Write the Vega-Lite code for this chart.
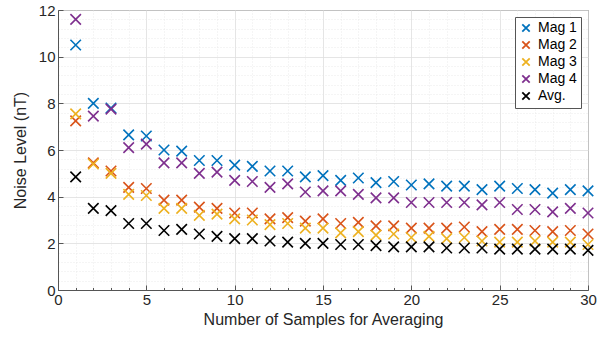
{
  "$schema": "https://vega.github.io/schema/vega-lite/v6.json",
  "width": 530,
  "height": 280,
  "autosize": {"type": "none"},
  "padding": {"left": 58, "top": 10, "right": 14, "bottom": 47},
  "background": "white",
  "config": {
    "font": "Liberation Sans",
    "view": {"stroke": "#555555", "strokeWidth": 1}
  },
  "datasets": {
    "pts": [
      {"n":1,"series":"Mag 1","noise":10.5},{"n":2,"series":"Mag 1","noise":8.0},{"n":3,"series":"Mag 1","noise":7.8},{"n":4,"series":"Mag 1","noise":6.65},{"n":5,"series":"Mag 1","noise":6.6},{"n":6,"series":"Mag 1","noise":6.0},{"n":7,"series":"Mag 1","noise":5.95},{"n":8,"series":"Mag 1","noise":5.55},{"n":9,"series":"Mag 1","noise":5.55},{"n":10,"series":"Mag 1","noise":5.35},{"n":11,"series":"Mag 1","noise":5.3},{"n":12,"series":"Mag 1","noise":5.1},{"n":13,"series":"Mag 1","noise":5.1},{"n":14,"series":"Mag 1","noise":4.85},{"n":15,"series":"Mag 1","noise":4.9},{"n":16,"series":"Mag 1","noise":4.7},{"n":17,"series":"Mag 1","noise":4.8},{"n":18,"series":"Mag 1","noise":4.6},{"n":19,"series":"Mag 1","noise":4.65},{"n":20,"series":"Mag 1","noise":4.5},{"n":21,"series":"Mag 1","noise":4.55},{"n":22,"series":"Mag 1","noise":4.45},{"n":23,"series":"Mag 1","noise":4.45},{"n":24,"series":"Mag 1","noise":4.3},{"n":25,"series":"Mag 1","noise":4.45},{"n":26,"series":"Mag 1","noise":4.35},{"n":27,"series":"Mag 1","noise":4.3},{"n":28,"series":"Mag 1","noise":4.15},{"n":29,"series":"Mag 1","noise":4.3},{"n":30,"series":"Mag 1","noise":4.25},
      {"n":1,"series":"Mag 2","noise":7.25},{"n":2,"series":"Mag 2","noise":5.45},{"n":3,"series":"Mag 2","noise":5.1},{"n":4,"series":"Mag 2","noise":4.4},{"n":5,"series":"Mag 2","noise":4.35},{"n":6,"series":"Mag 2","noise":3.85},{"n":7,"series":"Mag 2","noise":3.85},{"n":8,"series":"Mag 2","noise":3.55},{"n":9,"series":"Mag 2","noise":3.5},{"n":10,"series":"Mag 2","noise":3.3},{"n":11,"series":"Mag 2","noise":3.3},{"n":12,"series":"Mag 2","noise":3.05},{"n":13,"series":"Mag 2","noise":3.1},{"n":14,"series":"Mag 2","noise":2.95},{"n":15,"series":"Mag 2","noise":3.05},{"n":16,"series":"Mag 2","noise":2.85},{"n":17,"series":"Mag 2","noise":2.9},{"n":18,"series":"Mag 2","noise":2.75},{"n":19,"series":"Mag 2","noise":2.75},{"n":20,"series":"Mag 2","noise":2.65},{"n":21,"series":"Mag 2","noise":2.65},{"n":22,"series":"Mag 2","noise":2.65},{"n":23,"series":"Mag 2","noise":2.7},{"n":24,"series":"Mag 2","noise":2.5},{"n":25,"series":"Mag 2","noise":2.6},{"n":26,"series":"Mag 2","noise":2.6},{"n":27,"series":"Mag 2","noise":2.55},{"n":28,"series":"Mag 2","noise":2.5},{"n":29,"series":"Mag 2","noise":2.55},{"n":30,"series":"Mag 2","noise":2.4},
      {"n":1,"series":"Mag 3","noise":7.55},{"n":2,"series":"Mag 3","noise":5.4},{"n":3,"series":"Mag 3","noise":5.0},{"n":4,"series":"Mag 3","noise":4.1},{"n":5,"series":"Mag 3","noise":4.05},{"n":6,"series":"Mag 3","noise":3.5},{"n":7,"series":"Mag 3","noise":3.5},{"n":8,"series":"Mag 3","noise":3.2},{"n":9,"series":"Mag 3","noise":3.25},{"n":10,"series":"Mag 3","noise":3.05},{"n":11,"series":"Mag 3","noise":3.0},{"n":12,"series":"Mag 3","noise":2.8},{"n":13,"series":"Mag 3","noise":2.85},{"n":14,"series":"Mag 3","noise":2.65},{"n":15,"series":"Mag 3","noise":2.65},{"n":16,"series":"Mag 3","noise":2.45},{"n":17,"series":"Mag 3","noise":2.5},{"n":18,"series":"Mag 3","noise":2.35},{"n":19,"series":"Mag 3","noise":2.4},{"n":20,"series":"Mag 3","noise":2.25},{"n":21,"series":"Mag 3","noise":2.3},{"n":22,"series":"Mag 3","noise":2.2},{"n":23,"series":"Mag 3","noise":2.25},{"n":24,"series":"Mag 3","noise":2.1},{"n":25,"series":"Mag 3","noise":2.05},{"n":26,"series":"Mag 3","noise":2.05},{"n":27,"series":"Mag 3","noise":2.1},{"n":28,"series":"Mag 3","noise":2.05},{"n":29,"series":"Mag 3","noise":2.05},{"n":30,"series":"Mag 3","noise":1.95},
      {"n":1,"series":"Mag 4","noise":11.6},{"n":2,"series":"Mag 4","noise":7.45},{"n":3,"series":"Mag 4","noise":7.75},{"n":4,"series":"Mag 4","noise":6.1},{"n":5,"series":"Mag 4","noise":6.25},{"n":6,"series":"Mag 4","noise":5.45},{"n":7,"series":"Mag 4","noise":5.45},{"n":8,"series":"Mag 4","noise":5.0},{"n":9,"series":"Mag 4","noise":5.05},{"n":10,"series":"Mag 4","noise":4.7},{"n":11,"series":"Mag 4","noise":4.65},{"n":12,"series":"Mag 4","noise":4.4},{"n":13,"series":"Mag 4","noise":4.55},{"n":14,"series":"Mag 4","noise":4.2},{"n":15,"series":"Mag 4","noise":4.25},{"n":16,"series":"Mag 4","noise":4.25},{"n":17,"series":"Mag 4","noise":4.1},{"n":18,"series":"Mag 4","noise":3.95},{"n":19,"series":"Mag 4","noise":3.95},{"n":20,"series":"Mag 4","noise":3.75},{"n":21,"series":"Mag 4","noise":3.75},{"n":22,"series":"Mag 4","noise":3.75},{"n":23,"series":"Mag 4","noise":3.75},{"n":24,"series":"Mag 4","noise":3.65},{"n":25,"series":"Mag 4","noise":3.75},{"n":26,"series":"Mag 4","noise":3.45},{"n":27,"series":"Mag 4","noise":3.45},{"n":28,"series":"Mag 4","noise":3.35},{"n":29,"series":"Mag 4","noise":3.5},{"n":30,"series":"Mag 4","noise":3.3},
      {"n":1,"series":"Avg.","noise":4.85},{"n":2,"series":"Avg.","noise":3.5},{"n":3,"series":"Avg.","noise":3.4},{"n":4,"series":"Avg.","noise":2.85},{"n":5,"series":"Avg.","noise":2.85},{"n":6,"series":"Avg.","noise":2.55},{"n":7,"series":"Avg.","noise":2.6},{"n":8,"series":"Avg.","noise":2.4},{"n":9,"series":"Avg.","noise":2.3},{"n":10,"series":"Avg.","noise":2.2},{"n":11,"series":"Avg.","noise":2.2},{"n":12,"series":"Avg.","noise":2.1},{"n":13,"series":"Avg.","noise":2.05},{"n":14,"series":"Avg.","noise":2.0},{"n":15,"series":"Avg.","noise":2.0},{"n":16,"series":"Avg.","noise":1.95},{"n":17,"series":"Avg.","noise":1.95},{"n":18,"series":"Avg.","noise":1.9},{"n":19,"series":"Avg.","noise":1.85},{"n":20,"series":"Avg.","noise":1.85},{"n":21,"series":"Avg.","noise":1.85},{"n":22,"series":"Avg.","noise":1.8},{"n":23,"series":"Avg.","noise":1.8},{"n":24,"series":"Avg.","noise":1.8},{"n":25,"series":"Avg.","noise":1.75},{"n":26,"series":"Avg.","noise":1.75},{"n":27,"series":"Avg.","noise":1.75},{"n":28,"series":"Avg.","noise":1.75},{"n":29,"series":"Avg.","noise":1.75},{"n":30,"series":"Avg.","noise":1.7}
    ]
  },
  "data": {"name": "pts"},
  "mark": {
    "type": "point",
    "shape": "M-1,-1L1,1M-1,1L1,-1",
    "filled": false,
    "size": 110,
    "strokeWidth": 1.6,
    "opacity": 1
  },
  "encoding": {
    "x": {
      "field": "n",
      "type": "quantitative",
      "scale": {"domain": [0, 30], "nice": false},
      "title": "Number of Samples for Averaging",
      "axis": {
        "values": [0,1,2,3,4,5,6,7,8,9,10,11,12,13,14,15,16,17,18,19,20,21,22,23,24,25,26,27,28,29,30],
        "labelExpr": "datum.value % 5 === 0 ? '' + datum.value : ''",
        "labelOverlap": false,
        "labelFontSize": 15,
        "labelColor": "#262626",
        "labelPadding": 7,
        "titleFontSize": 16,
        "titleFontWeight": "normal",
        "titleColor": "#262626",
        "titlePadding": 2,
        "domainColor": "#555555",
        "tickColor": "#555555",
        "tickSize": {"condition": {"test": "datum.value % 5 === 0", "value": -5}, "value": -2.5},
        "labelFlush": false,
        "gridColor": {"condition": {"test": "datum.value % 5 === 0", "value": "#dedede"}, "value": "#e6e6e6"},
        "gridDash": {"condition": {"test": "datum.value % 5 === 0", "value": []}, "value": [1, 2]},
        "gridWidth": 0.8
      }
    },
    "y": {
      "field": "noise",
      "type": "quantitative",
      "scale": {"domain": [0, 12], "nice": false},
      "title": "Noise Level (nT)",
      "axis": {
        "values": [0,0.4,0.8,1.2,1.6,2,2.4,2.8,3.2,3.6,4,4.4,4.8,5.2,5.6,6,6.4,6.8,7.2,7.6,8,8.4,8.8,9.2,9.6,10,10.4,10.8,11.2,11.6,12],
        "labelExpr": "datum.value % 2 === 0 ? '' + datum.value : ''",
        "labelOverlap": false,
        "labelFontSize": 15,
        "labelColor": "#262626",
        "labelPadding": 8,
        "titleFontSize": 16,
        "titleFontWeight": "normal",
        "titleColor": "#262626",
        "titlePadding": 10,
        "domainColor": "#555555",
        "tickColor": "#555555",
        "tickSize": {"condition": {"test": "datum.value % 2 === 0", "value": -5}, "value": 0},
        "labelFlush": false,
        "gridColor": {"condition": {"test": "datum.value % 2 === 0", "value": "#dedede"}, "value": "#e6e6e6"},
        "gridDash": {"condition": {"test": "datum.value % 2 === 0", "value": []}, "value": [1, 2]},
        "gridWidth": 0.8
      }
    },
    "color": {
      "field": "series",
      "type": "nominal",
      "scale": {
        "domain": ["Mag 1", "Mag 2", "Mag 3", "Mag 4", "Avg."],
        "range": ["#0072BD", "#D95319", "#EDB120", "#7E2F8E", "#000000"]
      },
      "legend": {
        "title": null,
        "orient": "top-right",
        "offset": 7,
        "symbolType": "M-1,-1L1,1M-1,1L1,-1",
        "symbolSize": 55,
        "symbolStrokeWidth": 1.8,
        "labelFontSize": 14,
        "labelColor": "#000000",
        "rowPadding": 1,
        "labelOffset": 5,
        "padding": 4,
        "strokeColor": "#555555",
        "fillColor": "white"
      }
    }
  }
}
